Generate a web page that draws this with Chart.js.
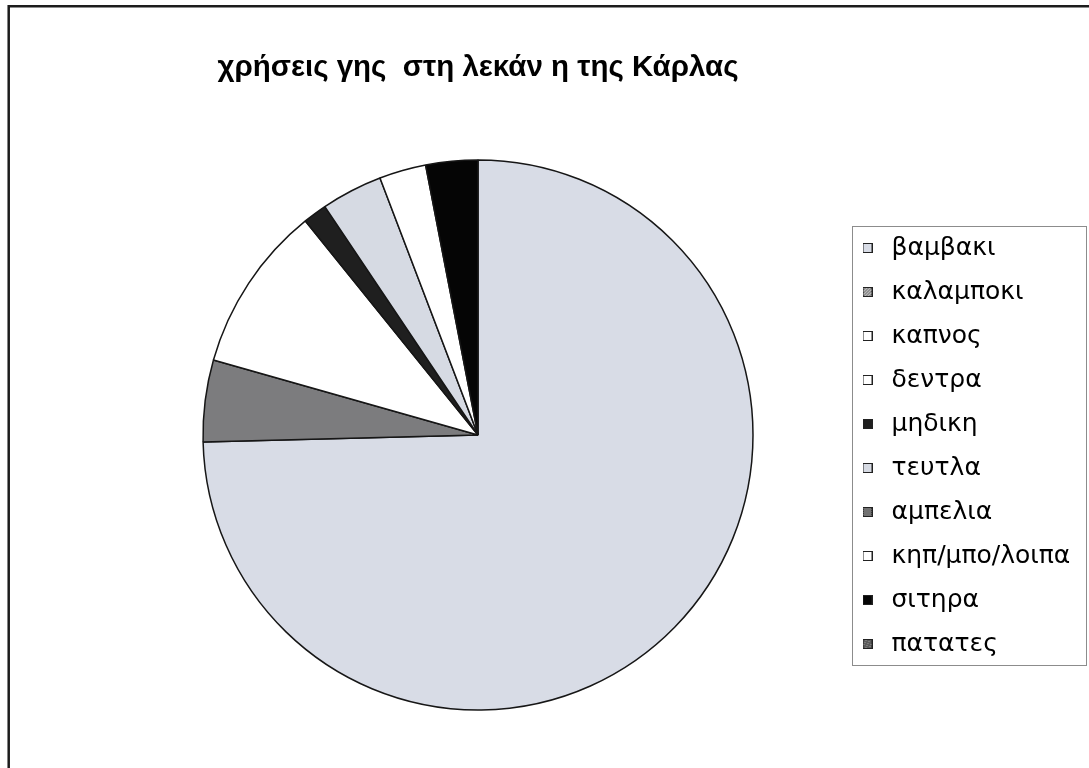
<!DOCTYPE html>
<html>
<head>
<meta charset="utf-8">
<title>χρήσεις γης στη λεκάνη της Κάρλας</title>
<script src="https://cdn.jsdelivr.net/npm/chart.js@4.4.0/dist/chart.umd.min.js"></script>
<style>
  html, body { margin: 0; padding: 0; background: #fff; }
  #wrap { width: 1089px; height: 768px; }
</style>
</head>
<body>
<div id="wrap"><canvas id="land-chart" width="1089" height="768"></canvas></div>
<script>
// land use shares (% of area)
var categories = ['βαμβακι', 'καλαμποκι', 'καπνος', 'δεντρα', 'μηδικη', 'τευτλα', 'αμπελια', 'κηπ/μπο/λοιπα', 'σιτηρα', 'πατατες'];
var shares = [74.6, 4.8, 9.8, 0, 1.4, 3.6, 0, 2.75, 3.05, 0];
var sliceColors = ['#d8dce6', '#7c7c7e', '#ffffff', '#ffffff', '#1f1f1f', '#d6dae3', '#4a4a4a', '#ffffff', '#050505', '#5c5c5c'];
var swatchPatterns = ['', 'hatch', '', '', '', '', 'check', '', '', 'speckle'];

var legendFont = { family: '"DejaVu Sans", sans-serif', size: 25 };
var legendPad = 19;
var swatchSlot = 23;

// small legend square, with a texture for the patterned series
function makeSwatch(color, pattern) {
    var c = document.createElement('canvas');
    c.width = 10;
    c.height = 10;
    var g = c.getContext('2d');
    g.fillStyle = pattern === 'hatch' ? '#b8b8b8' : color;
    g.fillRect(0, 0, 10, 10);
    g.fillStyle = pattern === 'hatch' ? '#6a6a6a' : '#9a9a9a';
    for (var y = 1; y < 9; y++) {
        for (var x = 1; x < 9; x++) {
            if (pattern === 'hatch' && (x + y) % 3 === 0) g.fillRect(x, y, 1, 1);
            if (pattern === 'check' && (x + y) % 2 === 0) g.fillRect(x, y, 1, 1);
            if (pattern === 'speckle' && (x * 3 + y * 5) % 7 === 0) g.fillRect(x, y, 1, 1);
        }
    }
    g.strokeStyle = '#222';
    g.lineWidth = 1;
    g.strokeRect(0.5, 0.5, 9, 9);
    return c;
}

var swatches = sliceColors.map(function (col, i) { return makeSwatch(col, swatchPatterns[i]); });

var canvas = document.getElementById('land-chart');
var ctx = canvas.getContext('2d');

// legend sits at a fixed left edge; work out its width from the longest label
ctx.font = legendFont.size + 'px ' + legendFont.family;
var longest = Math.max.apply(null, categories.map(function (t) { return ctx.measureText(t).width; }));
var legendWidth = legendPad + swatchSlot + legendFont.size / 2 + longest + 10;
var legendLeft = 837;
var pieCenterX = 478;
var padRight = Math.max(0, canvas.width - legendLeft - legendWidth);
var padLeft = 2 * pieCenterX - legendLeft;

// white page with the dark frame round the chart
var framePlugin = {
    id: 'frame',
    beforeDraw: function (chart) {
        var c = chart.ctx;
        c.save();
        c.fillStyle = '#fff';
        c.fillRect(0, 0, chart.width, chart.height);
        c.strokeStyle = '#1c1c1c';
        c.lineWidth = 2.5;
        c.beginPath();
        c.moveTo(8.7, chart.height + 5);
        c.lineTo(8.7, 6.2);
        c.lineTo(chart.width + 5, 6.2);
        c.stroke();
        c.restore();
    }
};

// thin grey box round the legend entries
var legendBoxPlugin = {
    id: 'legendBox',
    afterDraw: function (chart) {
        var boxes = chart.legend.legendHitBoxes;
        if (!boxes || !boxes.length) return;
        var first = boxes[0], last = boxes[boxes.length - 1];
        var x0 = Math.round(first.left - 4) + 0.5;
        var y0 = Math.round(first.top - 9.5) + 0.5;
        var y1 = Math.round(last.top + last.height + 8.5) + 0.5;
        var x1 = chart.width - 2.5;
        var c = chart.ctx;
        c.save();
        c.strokeStyle = '#8c8c8c';
        c.lineWidth = 1;
        c.strokeRect(x0, y0, x1 - x0, y1 - y0);
        c.restore();
    }
};

var chart = new Chart(ctx, {
    type: 'pie',
    data: {
        labels: categories,
        datasets: [{
            data: shares,
            backgroundColor: sliceColors,
            borderColor: '#161616',
            borderWidth: 1.5
        }]
    },
    options: {
        responsive: false,
        animation: false,
        radius: 275,
        layout: {
            padding: { left: padLeft, right: padRight, top: 0, bottom: 58 }
        },
        plugins: {
            title: {
                display: true,
                fullSize: false,
                text: 'χρήσεις γης  στη λεκάν η της Κάρλας',
                color: '#000',
                font: { family: '"Liberation Sans", Arial, sans-serif', size: 29.5, weight: 'bold', lineHeight: 1.2 },
                padding: { top: 50, bottom: 74.6 }
            },
            legend: {
                position: 'right',
                fullSize: false,
                title: {
                    display: true,
                    text: '',
                    font: { size: 10, lineHeight: 1 },
                    padding: { top: 12, bottom: 0 }
                },
                labels: {
                    color: '#000',
                    font: legendFont,
                    padding: legendPad,
                    usePointStyle: true,
                    pointStyleWidth: swatchSlot,
                    generateLabels: function (chart) {
                        var items = Chart.overrides.pie.plugins.legend.labels.generateLabels(chart);
                        items.forEach(function (item, i) {
                            item.pointStyle = swatches[i];
                            item.fontColor = '#000';
                        });
                        return items;
                    }
                }
            },
            tooltip: { enabled: false }
        }
    },
    plugins: [framePlugin, legendBoxPlugin]
});
</script>
</body>
</html>
